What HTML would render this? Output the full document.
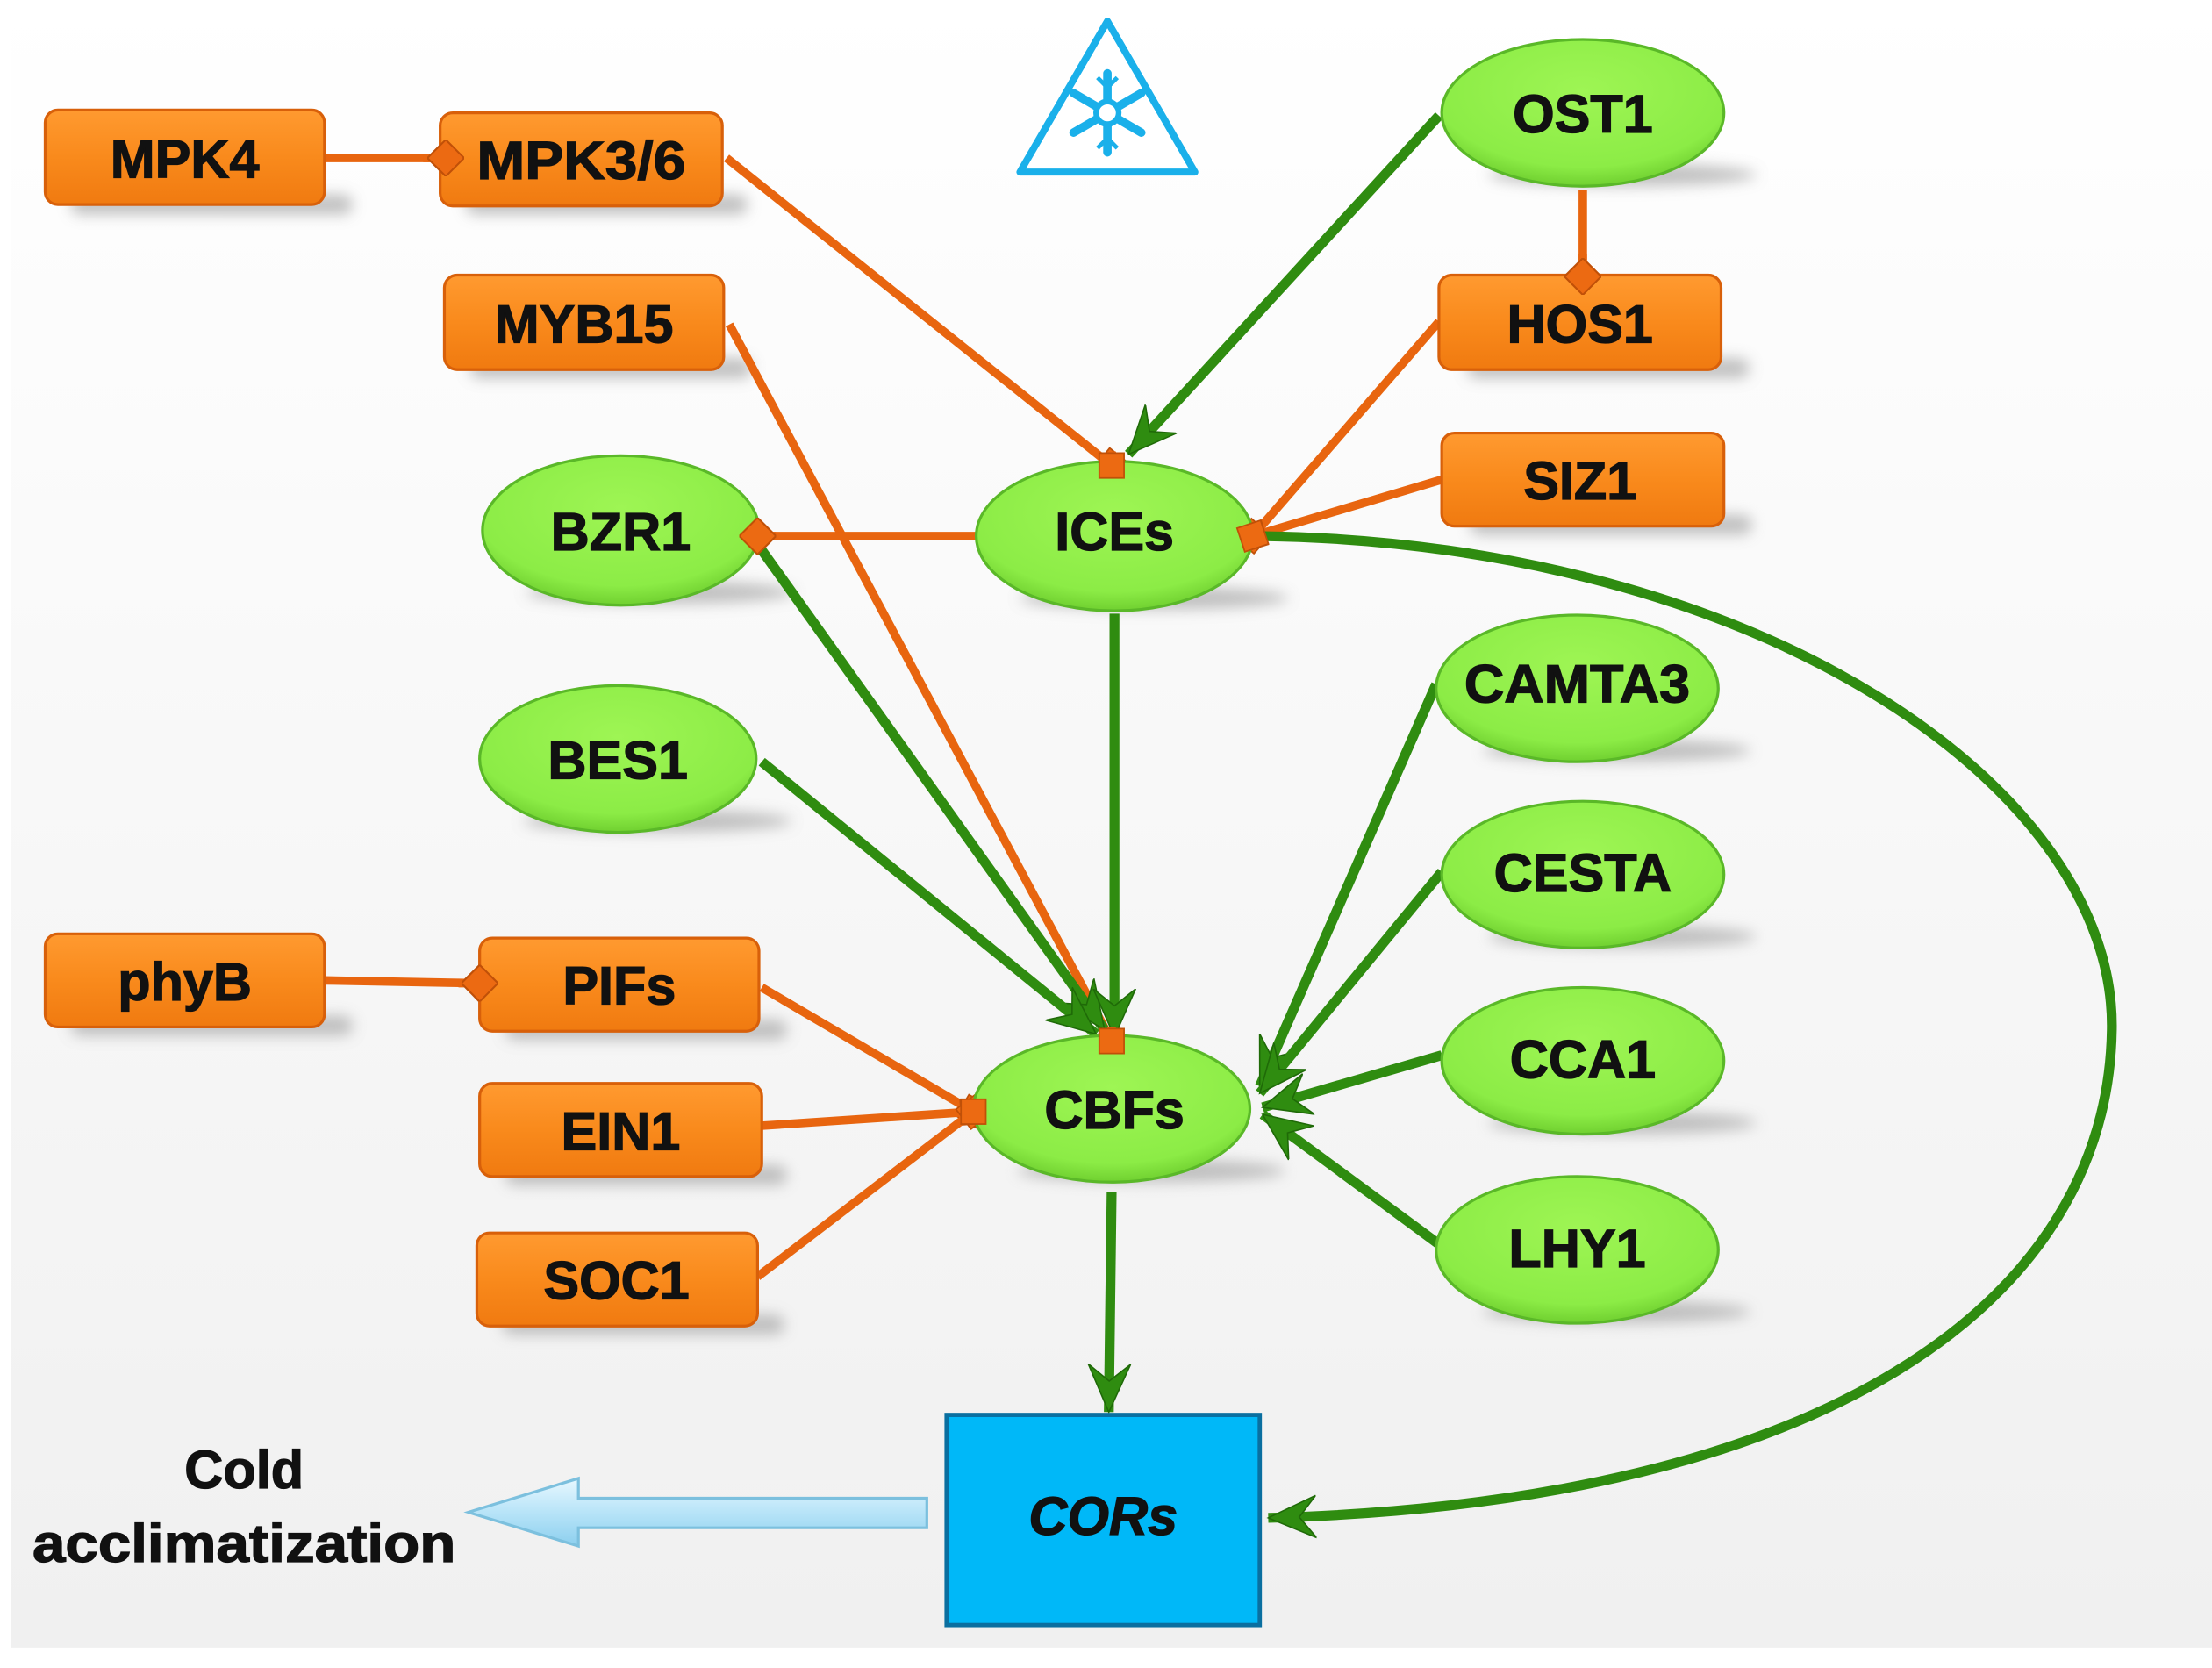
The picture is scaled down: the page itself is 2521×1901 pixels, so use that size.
<!DOCTYPE html>
<html><head><meta charset="utf-8"><style>
html,body{margin:0;padding:0;background:#fff;}
svg{display:block;}
text{font-family:"Liberation Sans",Arial,sans-serif;font-weight:bold;}
</style></head><body>
<svg width="2521" height="1901" viewBox="0 0 1568 1182.4" xmlns="http://www.w3.org/2000/svg">
<defs>
<linearGradient id="bg" x1="0" y1="0" x2="0" y2="1">
<stop offset="0" stop-color="#ffffff"/><stop offset="1" stop-color="#f0f0f0"/></linearGradient>
<linearGradient id="og" x1="0" y1="0" x2="0" y2="1">
<stop offset="0" stop-color="#ff9a30"/><stop offset="0.5" stop-color="#f98a1c"/><stop offset="1" stop-color="#f07a10"/></linearGradient>
<radialGradient id="gg" cx="0.5" cy="0.35" r="0.65">
<stop offset="0" stop-color="#9ef554"/><stop offset="0.8" stop-color="#8cec46"/><stop offset="1" stop-color="#70d030"/></radialGradient>
<linearGradient id="ag" x1="0" y1="0" x2="0" y2="1">
<stop offset="0" stop-color="#e8f8ff"/><stop offset="0.5" stop-color="#b8e4f8"/><stop offset="1" stop-color="#8ccfee"/></linearGradient>
<filter id="sh" x="-20%" y="-50%" width="140%" height="200%"><feGaussianBlur stdDeviation="5"/></filter>
<marker id="ga" viewBox="0 0 36 36" refX="34" refY="18" markerWidth="36" markerHeight="36" markerUnits="userSpaceOnUse" orient="auto">
<path d="M34,18 L0,3 L12,18 L0,33 Z" fill="#2f8c10" stroke="#1f6a08" stroke-width="1"/></marker>
<marker id="od" viewBox="0 0 20 20" refX="10" refY="10" markerWidth="26" markerHeight="26" markerUnits="userSpaceOnUse" orient="auto">
<path d="M0,10 L10,0 L20,10 L10,20 Z" fill="#ec6a12" stroke="#c05008" stroke-width="1"/></marker>
<marker id="os" viewBox="0 0 20 20" refX="10" refY="10" markerWidth="22" markerHeight="22" markerUnits="userSpaceOnUse" orient="auto">
<rect x="2" y="2" width="16" height="16" fill="#ec6a12" stroke="#c05008" stroke-width="1"/></marker>
</defs>
<rect x="0" y="0" width="1568" height="1182.4" fill="#fff"/>
<rect x="8" y="0" width="1560" height="1168" fill="url(#bg)"/>

<g fill="#b0b0b0" filter="url(#sh)" opacity="0.8">
<rect x="50" y="138" width="200" height="14" rx="7"/>
<rect x="330" y="138" width="200" height="14" rx="7"/>
<rect x="333" y="254" width="200" height="14" rx="7"/>
<rect x="1040" y="254" width="200" height="14" rx="7"/>
<rect x="1042" y="365" width="200" height="14" rx="7"/>
<rect x="50" y="720" width="200" height="14" rx="7"/>
<rect x="358" y="723" width="200" height="14" rx="7"/>
<rect x="358" y="826" width="200" height="14" rx="7"/>
<rect x="356" y="932" width="200" height="14" rx="7"/>
<ellipse cx="1150" cy="124" rx="95" ry="8"/>
<ellipse cx="468" cy="420" rx="95" ry="8"/>
<ellipse cx="818" cy="424" rx="95" ry="8"/>
<ellipse cx="466" cy="582" rx="95" ry="8"/>
<ellipse cx="1146" cy="532" rx="95" ry="8"/>
<ellipse cx="1150" cy="664" rx="95" ry="8"/>
<ellipse cx="1150" cy="796" rx="95" ry="8"/>
<ellipse cx="1146" cy="930" rx="95" ry="8"/>
<ellipse cx="816" cy="830" rx="95" ry="8"/>
</g>

<g stroke="#e8650f" stroke-width="6" fill="none">
<line x1="230" y1="112" x2="316" y2="112" marker-end="url(#od)"/>
<line x1="515" y1="112" x2="788" y2="330" marker-end="url(#os)"/>
<line x1="517" y1="230" x2="788" y2="738" marker-end="url(#os)"/>
<line x1="1122" y1="135" x2="1122" y2="196" marker-end="url(#od)"/>
<line x1="1020" y1="228" x2="888" y2="380" marker-end="url(#os)"/>
<line x1="1022" y1="340" x2="888" y2="380" marker-end="url(#os)"/>
<line x1="692" y1="380" x2="537" y2="380" marker-end="url(#od)"/>
<line x1="230" y1="695" x2="340" y2="697" marker-end="url(#od)"/>
<line x1="540" y1="700" x2="690" y2="788" marker-end="url(#os)"/>
<line x1="540" y1="798" x2="690" y2="788" marker-end="url(#os)"/>
<line x1="537" y1="905" x2="690" y2="788" marker-end="url(#os)"/>
</g>

<g stroke="#2f8c10" stroke-width="7" fill="none">
<line x1="1020" y1="82" x2="800" y2="322" marker-end="url(#ga)"/>
<line x1="540" y1="390" x2="783" y2="730" marker-end="url(#ga)"/>
<line x1="790" y1="435" x2="790" y2="735" marker-end="url(#ga)"/>
<line x1="540" y1="540" x2="777" y2="733" marker-end="url(#ga)"/>
<line x1="1018" y1="485" x2="893" y2="770" marker-end="url(#ga)"/>
<line x1="1022" y1="618" x2="893" y2="775" marker-end="url(#ga)"/>
<line x1="1022" y1="748" x2="895" y2="785" marker-end="url(#ga)"/>
<line x1="1020" y1="882" x2="895" y2="790" marker-end="url(#ga)"/>
<line x1="788" y1="845" x2="786" y2="1001" marker-end="url(#ga)"/>
<path d="M893,380 C1250,385 1500,560 1497,730 C1494,920 1300,1065 899,1076" marker-end="url(#ga)"/>
</g>

<g fill="url(#og)" stroke="#d8600a" stroke-width="2">
<rect x="32" y="78" width="198" height="67" rx="9"/>
<rect x="312" y="80" width="200" height="66" rx="9"/>
<rect x="315" y="195" width="198" height="67" rx="9"/>
<rect x="1020" y="195" width="200" height="67" rx="9"/>
<rect x="1022" y="307" width="200" height="66" rx="9"/>
<rect x="32" y="662" width="198" height="66" rx="9"/>
<rect x="340" y="665" width="198" height="66" rx="9"/>
<rect x="340" y="768" width="200" height="66" rx="9"/>
<rect x="338" y="874" width="199" height="66" rx="9"/>
</g>
<g fill="url(#gg)" stroke="#5ab828" stroke-width="2">
<ellipse cx="1122" cy="80" rx="100" ry="52"/>
<ellipse cx="440" cy="376" rx="98" ry="53"/>
<ellipse cx="790" cy="380" rx="98" ry="53"/>
<ellipse cx="438" cy="538" rx="98" ry="52"/>
<ellipse cx="1118" cy="488" rx="100" ry="52"/>
<ellipse cx="1122" cy="620" rx="100" ry="52"/>
<ellipse cx="1122" cy="752" rx="100" ry="52"/>
<ellipse cx="1118" cy="886" rx="100" ry="52"/>
<ellipse cx="788" cy="786" rx="98" ry="52"/>
</g>
<g stroke="#e8650f" stroke-width="6" fill="none">
<line x1="300" y1="112" x2="316" y2="112" marker-end="url(#od)"/>
<line x1="1122" y1="180" x2="1122" y2="196" marker-end="url(#od)"/>
<line x1="550" y1="380" x2="537" y2="380" marker-end="url(#od)"/>
<line x1="325" y1="697" x2="340" y2="697" marker-end="url(#od)"/>
<line x1="788" y1="320" x2="788" y2="330" marker-end="url(#os)"/>
<line x1="788" y1="728" x2="788" y2="738" marker-end="url(#os)"/>
<line x1="682" y1="788" x2="690" y2="788" marker-end="url(#os)"/>
<line x1="894" y1="378" x2="888" y2="380" marker-end="url(#os)"/>
</g>

<rect x="671" y="1003" width="222" height="149" fill="#00b8f8" stroke="#0a6fa0" stroke-width="3"/>
<text x="782" y="1088" font-size="38" font-style="italic" text-anchor="middle" fill="#111" stroke="#111" stroke-width="0.8">CORs</text>

<path d="M657,1062 L410,1062 L410,1048 L332,1072 L410,1096 L410,1083 L657,1083 Z" fill="url(#ag)" stroke="#7cc0de" stroke-width="2"/>
<g font-size="38" text-anchor="middle" fill="#111" stroke="#111" stroke-width="0.8">
<text x="173" y="1055">Cold</text>
<text x="173" y="1107" textLength="300" lengthAdjust="spacingAndGlyphs">acclimatization</text>
</g>

<path d="M785,15 L723,122 L847,122 Z" fill="#fff" stroke="#1ab0ea" stroke-width="5" stroke-linejoin="round"/>
<g stroke="#1ab0ea" stroke-width="6" stroke-linecap="round">
<line x1="785" y1="52" x2="785" y2="108"/>
<line x1="761" y1="66" x2="809" y2="94"/>
<line x1="761" y1="94" x2="809" y2="66"/>
</g>
<g stroke="#1ab0ea" stroke-width="3" fill="none">
<path d="M778,55 L785,62 L792,55 M778,105 L785,98 L792,105"/>
</g>
<circle cx="785" cy="80" r="8" fill="#fff" stroke="#1ab0ea" stroke-width="4"/>

<g font-size="38" text-anchor="middle" fill="#111" stroke="#111" stroke-width="0.8">
<text x="131" y="126">MPK4</text>
<text x="412" y="127" textLength="148" lengthAdjust="spacingAndGlyphs">MPK3/6</text>
<text x="414" y="243">MYB15</text>
<text x="1120" y="243">HOS1</text>
<text x="1120" y="354">SIZ1</text>
<text x="131" y="709">phyB</text>
<text x="439" y="712">PIFs</text>
<text x="440" y="815">EIN1</text>
<text x="437" y="921">SOC1</text>
<text x="1122" y="94">OST1</text>
<text x="440" y="390">BZR1</text>
<text x="790" y="390">ICEs</text>
<text x="438" y="552">BES1</text>
<text x="1118" y="498" textLength="160" lengthAdjust="spacingAndGlyphs">CAMTA3</text>
<text x="1122" y="632">CESTA</text>
<text x="1122" y="764">CCA1</text>
<text x="1118" y="898">LHY1</text>
<text x="790" y="800">CBFs</text>
</g>
</svg>
</body></html>
